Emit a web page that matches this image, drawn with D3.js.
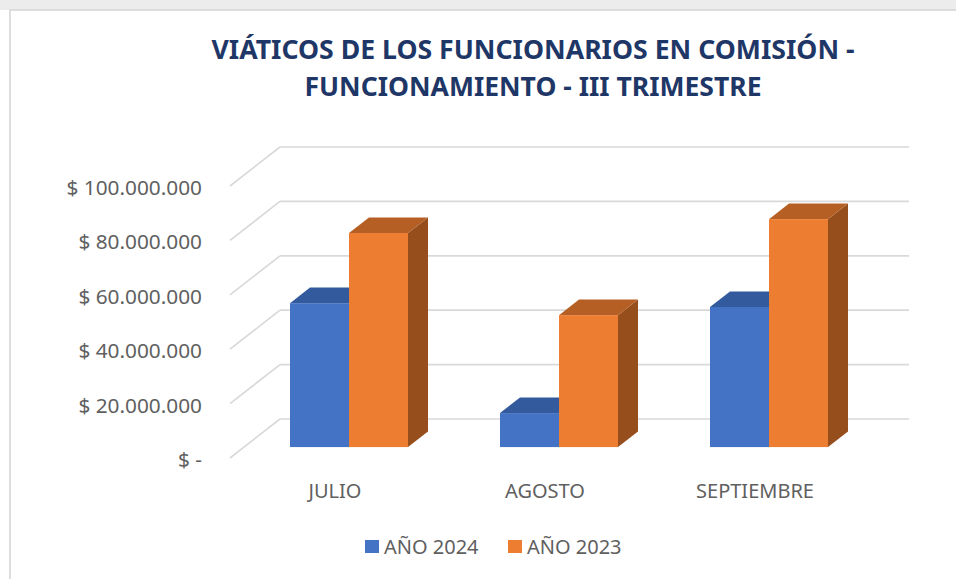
<!DOCTYPE html>
<html>
<head>
<meta charset="utf-8">
<script src="https://cdn.jsdelivr.net/npm/d3@7"></script>
<style>
  body { margin: 0; background: #fff; }
  text { font-family: "Noto Sans", "Open Sans", sans-serif; }
</style>
</head>
<body>
<div id="chart"></div>
<script>
// data
const categories = ["JULIO", "AGOSTO", "SEPTIEMBRE"];
const seriesNames = ["AÑO 2024", "AÑO 2023"];
const values2024 = [52900000, 12500000, 51500000];
const values2023 = [78700000, 48500000, 83800000];
const yTicks = [0, 20000000, 40000000, 60000000, 80000000, 100000000];
const titleLines = ["VIÁTICOS DE LOS FUNCIONARIOS EN COMISIÓN -", "FUNCIONAMIENTO  - III TRIMESTRE"];

const W = 956, H = 579;

const svg = d3.select("#chart").append("svg")
    .attr("width", W)
    .attr("height", H);

// frame
svg.append("rect").attr("x", 0).attr("y", 0).attr("width", W).attr("height", 10).attr("fill", "#ececec");
svg.append("rect")
    .attr("x", 10).attr("y", 10)
    .attr("width", W + 20).attr("height", H + 20)
    .attr("fill", "#fff")
    .attr("stroke", "#d4d4d4")
    .attr("stroke-width", 1.5);

// title
svg.selectAll("text.title")
    .data(titleLines)
    .join("text")
    .attr("class", "title")
    .attr("x", 533)
    .attr("y", (d, i) => 58.5 + i * 37)
    .attr("text-anchor", "middle")
    .attr("font-size", 27)
    .attr("font-weight", "bold")
    .attr("fill", "#1f3767")
    .attr("textLength", (d, i) => i === 0 ? 643 : 457)
    .attr("lengthAdjust", "spacingAndGlyphs")
    .text(d => d);

// 3d projection: depth t in [0,1] moves a point by (depthX*t, -depthY*t)
const depthX = 50, depthY = 39;
const barT0 = 0.28, barT1 = 0.68;

const x = d3.scaleBand()
    .domain(categories)
    .range([230, 860]);

const barW = 59;
const xInner = d3.scaleBand()
    .domain(seriesNames)
    .range([x.bandwidth() / 2 - barW, x.bandwidth() / 2 + barW]);

const y = d3.scaleLinear()
    .domain([0, 100000000])
    .range([458, 186]);

const color = d3.scaleOrdinal()
    .domain(seriesNames)
    .range(["#4472c4", "#ed7d31"]);
const topColor = d3.scaleOrdinal()
    .domain(seriesNames)
    .range(["#335a9c", "#b55f24"]);
const sideColor = d3.scaleOrdinal()
    .domain(seriesNames)
    .range(["#2b4c86", "#974e1d"]);

const locale = d3.formatLocale({decimal: ",", thousands: ".", grouping: [3], currency: ["$", ""]});
const fmt = locale.format(",.0f");
const tickLabel = v => v === 0 ? "$ -" : "$ " + fmt(v);

// gridlines
const grid = svg.append("g").attr("class", "grid");
grid.selectAll("line.side")
    .data(yTicks)
    .join("line")
    .attr("x1", 230).attr("y1", d => y(d))
    .attr("x2", 230 + depthX).attr("y2", d => y(d) - depthY)
    .attr("stroke", "#d9d9d9").attr("stroke-width", 1.7);
grid.selectAll("line.back")
    .data(yTicks)
    .join("line")
    .attr("x1", 230 + depthX).attr("y1", d => y(d) - depthY)
    .attr("x2", 909).attr("y2", d => y(d) - depthY)
    .attr("stroke", "#d9d9d9").attr("stroke-width", 1.7);

// y axis labels
svg.append("g").selectAll("text")
    .data(yTicks)
    .join("text")
    .attr("x", 202)
    .attr("y", d => y(d) + 9)
    .attr("text-anchor", "end")
    .attr("font-size", 20.8)
    .attr("fill", "#606060")
    .text(tickLabel);

// bars
const bars = [];
categories.forEach((c, i) => {
    bars.push({cat: c, s: seriesNames[0], v: values2024[i]});
    bars.push({cat: c, s: seriesNames[1], v: values2023[i]});
});

const ox = depthX * barT0, oy = -depthY * barT0;
const ddx = depthX * (barT1 - barT0), ddy = -depthY * (barT1 - barT0);

const barG = svg.append("g").selectAll("g")
    .data(bars)
    .join("g");

barG.each(function(d) {
    const g = d3.select(this);
    const xl = x(d.cat) + xInner(d.s) + ox;
    const xr = xl + barW;
    const yb = y(0) + oy;
    const yt = y(d.v) + oy;
    // side
    g.append("path")
        .attr("d", d3.line()([[xr, yt], [xr + ddx, yt + ddy], [xr + ddx, yb + ddy], [xr, yb]]))
        .attr("fill", sideColor(d.s));
    // top
    g.append("path")
        .attr("d", d3.line()([[xl, yt], [xl + ddx, yt + ddy], [xr + ddx, yt + ddy], [xr, yt]]))
        .attr("fill", topColor(d.s));
    // front
    g.append("rect")
        .attr("x", xl).attr("y", yt)
        .attr("width", barW).attr("height", yb - yt)
        .attr("fill", color(d.s));
});

// category labels
svg.append("g").selectAll("text")
    .data(categories)
    .join("text")
    .attr("x", d => x(d) + x.bandwidth() / 2)
    .attr("y", 498)
    .attr("text-anchor", "middle")
    .attr("font-size", 20)
    .attr("fill", "#606060")
    .text(d => d);

// legend
const legendX = [365, 508];
const legend = svg.append("g").selectAll("g")
    .data(seriesNames)
    .join("g")
    .attr("transform", (d, i) => "translate(" + legendX[i] + ",540)");
legend.append("rect")
    .attr("width", 14).attr("height", 13)
    .attr("fill", d => color(d));
legend.append("text")
    .attr("x", 19).attr("y", 13.5)
    .attr("font-size", 20)
    .attr("fill", "#606060")
    .text(d => d);
</script>
</body>
</html>
